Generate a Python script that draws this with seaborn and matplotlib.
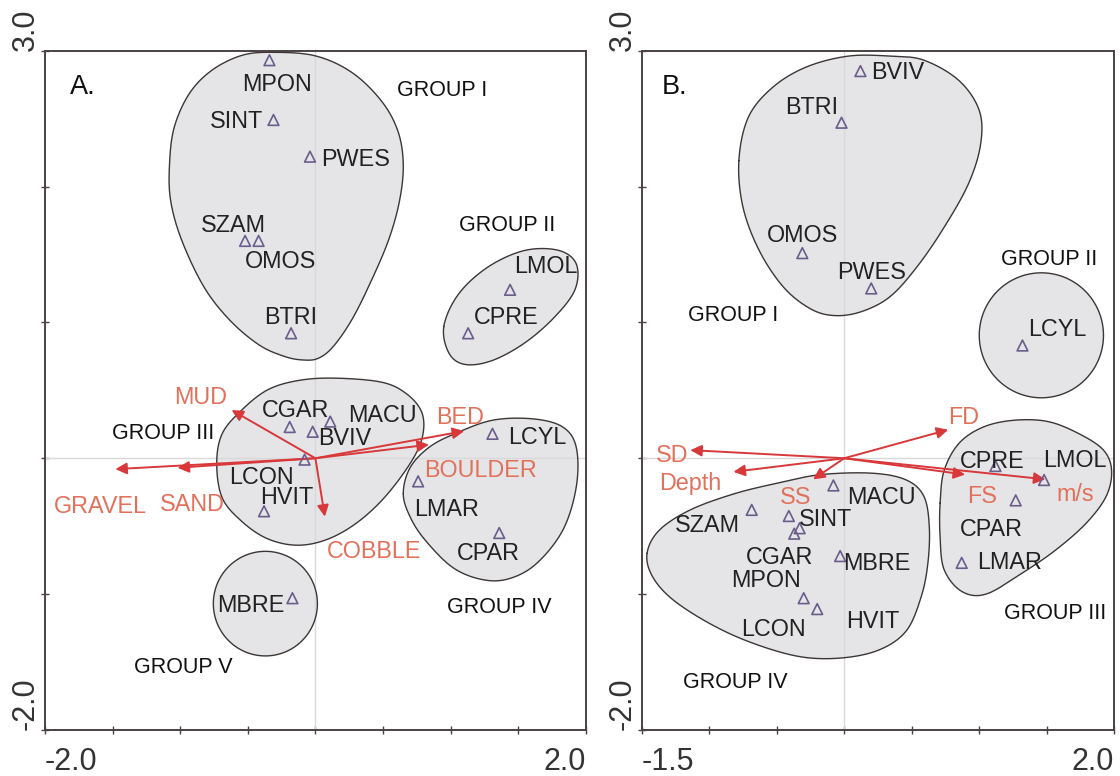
import numpy as np
import matplotlib
matplotlib.use("Agg")
import matplotlib.pyplot as plt
import seaborn as sns

# ---------------- Panel A: species scores (axis 1, axis 2) ----------------
A_SPECIES = ["MPON", "SINT", "PWES", "SZAM", "OMOS", "BTRI", "LMOL", "CPRE",
             "CGAR", "MACU", "BVIV", "LCON", "HVIT", "LCYL", "LMAR", "CPAR", "MBRE"]
A_AX1 = [-0.34, -0.31, -0.04, -0.52, -0.42, -0.18, 1.44, 1.13,
         -0.19, 0.11, -0.02, -0.08, -0.38, 1.31, 0.76, 1.36, -0.17]
A_AX2 = [2.93, 2.49, 2.22, 1.60, 1.60, 0.92, 1.24, 0.92,
         0.23, 0.27, 0.195, -0.01, -0.39, 0.18, -0.17, -0.55, -1.03]

# Panel A: environmental vectors
A_ENV = ["MUD", "BED", "BOULDER", "GRAVEL", "SAND", "COBBLE"]
A_ENV_AX1 = [-0.62, 1.10, 0.84, -1.48, -1.02, 0.07]
A_ENV_AX2 = [0.355, 0.20, 0.10, -0.08, -0.07, -0.43]

# Panel A: group names and envelopes
A_GROUPS = ["GROUP I", "GROUP II", "GROUP III", "GROUP IV", "GROUP V"]
A_GROUP_AX1 = [0.94, 1.42, -1.13, 1.36, -0.98]
A_GROUP_AX2 = [2.71, 1.71, 0.18, -1.10, -1.54]

A_HULL_I = [(-0.333, 2.988), (-0.005, 2.963), (0.268, 2.841), (0.486, 2.633),
            (0.609, 2.412), (0.650, 2.168), (0.623, 1.898), (0.541, 1.605),
            (0.404, 1.286), (0.268, 1.017), (0.131, 0.821), (0.022, 0.736),
            (-0.087, 0.723), (-0.224, 0.748), (-0.415, 0.833), (-0.634, 1.017),
            (-0.825, 1.262), (-0.989, 1.605), (-1.071, 1.898), (-1.079, 2.168),
            (-1.044, 2.437), (-0.934, 2.682), (-0.770, 2.853), (-0.552, 2.963)]
A_HULL_II = [(0.95, 0.97), (1.06, 1.21), (1.28, 1.41), (1.55, 1.53),
             (1.80, 1.53), (1.93, 1.43), (1.92, 1.24), (1.77, 1.04),
             (1.55, 0.85), (1.31, 0.72), (1.11, 0.69), (0.99, 0.77)]
A_HULL_III = [(-0.73, -0.04), (-0.69, 0.18), (-0.55, 0.35), (-0.36, 0.50),
              (-0.14, 0.57), (0.13, 0.59), (0.49, 0.56), (0.68, 0.47),
              (0.79, 0.33), (0.79, 0.15), (0.70, -0.04), (0.51, -0.29),
              (0.30, -0.48), (0.08, -0.60), (-0.14, -0.64), (-0.36, -0.59),
              (-0.55, -0.46), (-0.69, -0.29)]
A_HULL_IV = [(0.65, -0.26), (0.70, -0.07), (0.84, 0.08), (1.03, 0.18),
             (1.31, 0.28), (1.61, 0.29), (1.83, 0.23), (1.93, 0.08),
             (1.93, -0.21), (1.83, -0.53), (1.63, -0.78), (1.42, -0.89),
             (1.22, -0.89), (1.01, -0.80), (0.81, -0.60), (0.70, -0.43)]
A_HULL_V_CENTER = (-0.37, -1.07)
A_HULL_V_RADIUS = 0.385

# ---------------- Panel B ----------------
B_SPECIES = ["BVIV", "BTRI", "OMOS", "PWES", "LCYL", "SZAM", "SINT", "CGAR", "MPON",
             "MACU", "MBRE", "LCON", "HVIT", "CPRE", "LMOL", "CPAR", "LMAR"]
B_AX1 = [0.12, -0.02, -0.31, 0.20, 1.32, -0.685, -0.41, -0.33, -0.37,
         -0.08, -0.03, -0.30, -0.20, 1.12, 1.48, 1.27, 0.87]
B_AX2 = [2.85, 2.47, 1.51, 1.25, 0.83, -0.38, -0.425, -0.515, -0.555,
         -0.20, -0.72, -1.03, -1.11, -0.057, -0.16, -0.31, -0.77]

B_ENV = ["SD", "Depth", "SS", "FD", "FS", "m/s"]
B_ENV_AX1 = [-1.14, -0.82, -0.23, 0.77, 0.895, 1.49]
B_ENV_AX2 = [0.06, -0.10, -0.155, 0.21, -0.12, -0.155]

B_GROUPS = ["GROUP I", "GROUP II", "GROUP III", "GROUP IV"]
B_GROUP_AX1 = [-0.82, 1.52, 1.56, -0.81]
B_GROUP_AX2 = [1.05, 1.46, -1.14, -1.65]

B_HULL_I = [(-0.78, 2.19), (-0.71, 2.51), (-0.53, 2.73), (-0.28, 2.88),
            (0.03, 2.96), (0.34, 2.96), (0.59, 2.93), (0.85, 2.78),
            (1.00, 2.56), (1.01, 2.31), (0.92, 2.02), (0.74, 1.70),
            (0.54, 1.41), (0.34, 1.19), (0.13, 1.08), (-0.07, 1.05),
            (-0.25, 1.10), (-0.45, 1.26), (-0.63, 1.53), (-0.75, 1.85)]
B_HULL_II_CENTER = (1.46, 0.905)
B_HULL_II_RADIUS = 0.46
B_HULL_III = [(0.71, -0.33), (0.74, -0.09), (0.85, 0.11), (1.03, 0.23),
              (1.26, 0.28), (1.51, 0.27), (1.74, 0.18), (1.92, 0.06),
              (1.98, -0.09), (1.94, -0.28), (1.79, -0.48), (1.56, -0.68),
              (1.31, -0.85), (1.05, -1.00), (0.87, -0.98), (0.74, -0.82),
              (0.71, -0.58)]
B_HULL_IV = [(-1.46, -0.70), (-1.37, -0.53), (-1.14, -0.38), (-0.81, -0.26),
             (-0.48, -0.18), (-0.17, -0.12), (0.21, -0.11), (0.46, -0.16),
             (0.59, -0.28), (0.63, -0.50), (0.62, -0.77), (0.57, -1.02),
             (0.46, -1.27), (0.26, -1.41), (-0.02, -1.47), (-0.33, -1.46),
             (-0.68, -1.36), (-0.99, -1.22), (-1.27, -1.04), (-1.42, -0.87)]

# ---------------- layout: label offsets in pixels from each mark ----------------
A_SP_OFFSET = {"MPON": (8, -24), "SINT": (-37, -2), "PWES": (46, -3), "SZAM": (-12, 15),
               "OMOS": (22, -21), "BTRI": (0, 16), "LMOL": (36, 23), "CPRE": (38, 16),
               "CGAR": (6, 17), "MACU": (52, 6), "BVIV": (32, -7), "LCON": (-43, -18),
               "HVIT": (23, 14), "LCYL": (45, -4), "LMAR": (28, -28), "CPAR": (-11, -21),
               "MBRE": (-42, -7)}
A_ENV_OFFSET = {"MUD": (-31, 13), "BED": (-4, 14), "BOULDER": (52, -26),
                "GRAVEL": (-15, -37), "SAND": (15, -37), "COBBLE": (49, -35)}
B_SP_OFFSET = {"BVIV": (37, -1), "BTRI": (-30, 15), "OMOS": (0, 18), "PWES": (0, 16),
               "LCYL": (35, 16), "SZAM": (-44, -16), "SINT": (37, -3), "CGAR": (-20, -29),
               "MPON": (-28, -47), "MACU": (48, -12), "MBRE": (37, -7), "LCON": (-30, -31),
               "HVIT": (56, -12), "CPRE": (-3, 5), "LMOL": (31, 19), "CPAR": (-24, -29),
               "LMAR": (48, 0)}
B_ENV_OFFSET = {"SD": (-18, -5), "Depth": (-43, -12), "SS": (-18, -18), "FD": (15, 12),
                "FS": (17, -22), "m/s": (30, -15)}

# ---------------- styling ----------------
sns.set_theme(style="white")
plt.rcParams["font.family"] = ["Liberation Sans", "DejaVu Sans"]

ARROW_RED = "#d8383a"
LABEL_RED = "#e2705a"
TRI_EDGE = "#6a5d8c"
HULL_FILL = "#e5e5e7"
HULL_EDGE = "#3c3636"
SPINE = "#4a4242"
SP_SIZE = 16.8
GROUP_SIZE = 15.5


def closed_spline(pts, n=24):
    """Closed Catmull-Rom curve through the envelope vertices."""
    P = np.asarray(pts, dtype=float)
    N = len(P)
    t = np.linspace(0, 1, n, endpoint=False)[:, None]
    segs = []
    for i in range(N):
        p0, p1, p2, p3 = P[i - 1], P[i], P[(i + 1) % N], P[(i + 2) % N]
        segs.append(0.5 * (2 * p1 + (-p0 + p2) * t
                           + (2 * p0 - 5 * p1 + 4 * p2 - p3) * t ** 2
                           + (-p0 + 3 * p1 - 3 * p2 + p3) * t ** 3))
    out = np.vstack(segs)
    return np.vstack([out, out[:1]])


def circle(center, radius, n=200):
    a = np.linspace(0, 2 * np.pi, n)
    return np.column_stack([center[0] + radius * np.cos(a), center[1] + radius * np.sin(a)])


def draw_envelope(ax, curve):
    ax.fill(curve[:, 0], curve[:, 1], color=HULL_FILL, zorder=1, lw=0)
    ax.plot(curve[:, 0], curve[:, 1], color=HULL_EDGE, lw=1.0, zorder=2)


def draw_panel(ax, xlim, xticks, species, ax1, ax2, sp_off, env, e1, e2, env_off,
               groups, g1, g2, curves, tag, tag_x):
    ax.set_xlim(*xlim)
    ax.set_ylim(-2.0, 3.0)

    for c in curves:
        draw_envelope(ax, c)

    # faint zero axes
    ax.axvline(0, color="#d9d9d9", lw=1.0, zorder=1.5)
    ax.axhline(0, color="#d9d9d9", lw=1.0, zorder=1.5)

    # environmental vectors
    for name, x, y in zip(env, e1, e2):
        ax.annotate("", xy=(x, y), xytext=(0, 0),
                    arrowprops=dict(arrowstyle="-|>", color=ARROW_RED, lw=1.4,
                                    mutation_scale=17, shrinkA=0, shrinkB=0),
                    zorder=3)
        ax.annotate(name, xy=(x, y), xytext=env_off[name], textcoords="offset pixels",
                    ha="center", va="center", color=LABEL_RED, fontsize=SP_SIZE, zorder=5)

    # species scores
    sns.scatterplot(x=ax1, y=ax2, ax=ax, marker="^", s=60, color=TRI_EDGE,
                    edgecolor=TRI_EDGE, linewidth=1.2, zorder=4, legend=False)
    ax.collections[-1].set_facecolor("none")
    for name, x, y in zip(species, ax1, ax2):
        ax.annotate(name, xy=(x, y), xytext=sp_off[name], textcoords="offset pixels",
                    ha="center", va="center", color="#222222", fontsize=SP_SIZE, zorder=5)

    for name, x, y in zip(groups, g1, g2):
        ax.text(x, y, name, ha="center", va="center", color="#111111",
                fontsize=GROUP_SIZE, zorder=5)

    ax.text(tag_x, 0.946, tag, transform=ax.transAxes, ha="left", va="center",
            fontsize=19.5, color="#111111", zorder=5)

    # frame and ticks
    for s in ax.spines.values():
        s.set_visible(True)
        s.set_color(SPINE)
        s.set_linewidth(1.4)
    ax.set_xticks(xticks)
    ax.set_xticklabels([f"{xticks[0]:.1f}"] + [""] * (len(xticks) - 2) + [f"{xticks[-1]:.1f}"])
    yt = [-2.0, -1.0, 0.0, 1.0, 2.0, 3.0]
    ax.set_yticks(yt)
    ax.set_yticklabels(["-2.0", "", "", "", "", "3.0"])
    ax.tick_params(axis="both", direction="inout", length=6, width=1.0, color=SPINE,
                   labelsize=22, labelcolor="#333333", bottom=True, left=True)
    ax.tick_params(axis="x", pad=9)
    ax.tick_params(axis="y", pad=0)
    xl = ax.get_xticklabels()
    xl[0].set_ha("left")
    xl[-1].set_ha("right")
    for lab in ax.get_yticklabels():
        lab.set_rotation(90)
        lab.set_va("bottom")
    ax.grid(False)
    ax.set_xlabel("")
    ax.set_ylabel("")


fig = plt.figure(figsize=(11.2, 7.76), dpi=100)
fig.patch.set_facecolor("white")
axA = fig.add_axes([0.0402, 0.0593, 0.4828, 0.8754])
axB = fig.add_axes([0.5729, 0.0593, 0.4220, 0.8754])

curvesA = [closed_spline(A_HULL_I), closed_spline(A_HULL_II), closed_spline(A_HULL_III),
           closed_spline(A_HULL_IV), circle(A_HULL_V_CENTER, A_HULL_V_RADIUS)]
curvesB = [closed_spline(B_HULL_I), circle(B_HULL_II_CENTER, B_HULL_II_RADIUS),
           closed_spline(B_HULL_III), closed_spline(B_HULL_IV)]

draw_panel(axA, (-2.0, 2.0), list(np.arange(-2.0, 2.01, 0.5)),
           A_SPECIES, A_AX1, A_AX2, A_SP_OFFSET, A_ENV, A_ENV_AX1, A_ENV_AX2, A_ENV_OFFSET,
           A_GROUPS, A_GROUP_AX1, A_GROUP_AX2, curvesA, "A.", 0.046)
draw_panel(axB, (-1.5, 2.0), list(np.arange(-1.5, 2.01, 0.5)),
           B_SPECIES, B_AX1, B_AX2, B_SP_OFFSET, B_ENV, B_ENV_AX1, B_ENV_AX2, B_ENV_OFFSET,
           B_GROUPS, B_GROUP_AX1, B_GROUP_AX2, curvesB, "B.", 0.042)

fig.savefig("out.png", dpi=100, facecolor="white")
